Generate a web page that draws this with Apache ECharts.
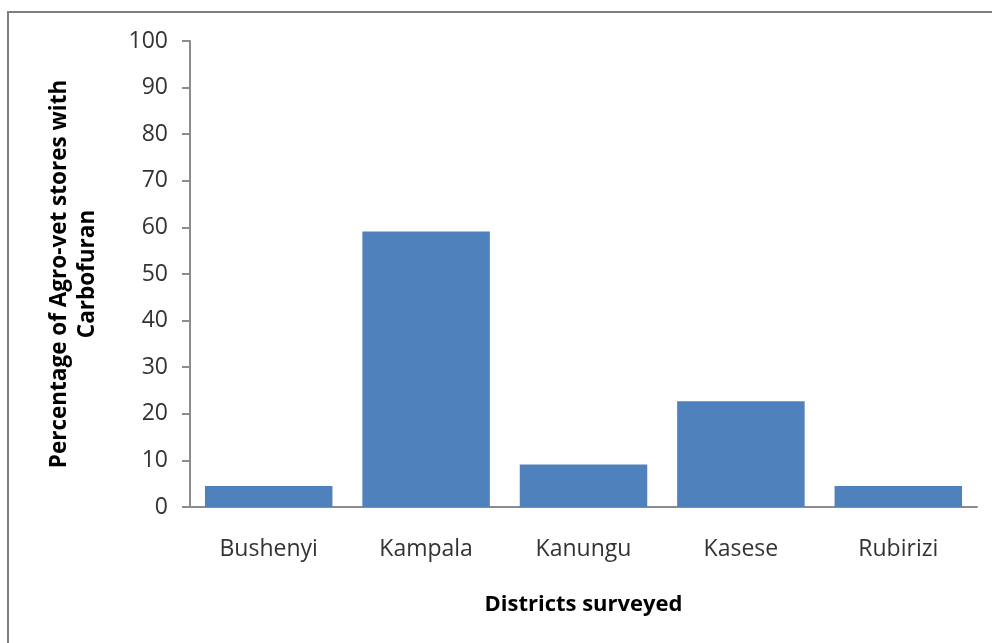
<!DOCTYPE html>
<html>
<head>
<meta charset="utf-8">
<script src="https://cdn.jsdelivr.net/npm/echarts@6/dist/echarts.min.js"></script>
<style>
  html, body { margin: 0; padding: 0; background: #fff; }
  #chart { width: 992px; height: 643px; }
</style>
</head>
<body>
<div id="chart"></div>
<script>
// districts and % of agro-vet stores stocking carbofuran
const districts = ['Bushenyi', 'Kampala', 'Kanungu', 'Kasese', 'Rubirizi']
const percentWithCarbofuran = [4.5, 59.1, 9.1, 22.7, 4.5]
const yTicks = [0, 10, 20, 30, 40, 50, 60, 70, 80, 90, 100]

const axisGray = '#8c8c8c'
const labelFont = 'Open Sans'

const chart = echarts.init(document.getElementById('chart'))
chart.setOption({
  animation: false,
  backgroundColor: '#fff',
  grid: {
    left: 190,
    right: 15,
    top: 41,
    bottom: 136
  },
  graphic: [
    {
      type: 'rect',
      shape: { x: 8, y: 12, width: 1000, height: 700 },
      style: { fill: 'none', stroke: '#7f7f7f', lineWidth: 2 },
      silent: true
    }
  ],
  xAxis: {
    type: 'category',
    data: districts,
    name: 'Districts surveyed',
    nameLocation: 'middle',
    nameGap: 87,
    nameTextStyle: {
      fontFamily: labelFont,
      fontWeight: 'bold',
      fontSize: 22,
      color: '#000'
    },
    axisLine: { lineStyle: { color: axisGray, width: 2 } },
    axisTick: { show: false },
    axisLabel: {
      margin: 31,
      fontFamily: labelFont,
      fontSize: 23,
      color: '#333'
    }
  },
  yAxis: {
    type: 'value',
    min: yTicks[0],
    max: yTicks[yTicks.length - 1],
    interval: yTicks[1] - yTicks[0],
    name: 'Percentage of Agro-vet stores with\nCarbofuran',
    nameLocation: 'middle',
    nameGap: 88,
    nameRotate: 90,
    nameTextStyle: {
      fontFamily: labelFont,
      fontWeight: 'bold',
      fontSize: 22.5,
      lineHeight: 28,
      color: '#000',
      align: 'center'
    },
    splitLine: { show: false },
    axisLine: { show: true, lineStyle: { color: axisGray, width: 2 } },
    axisTick: { show: true, length: 8, lineStyle: { color: axisGray, width: 2 } },
    axisLabel: {
      margin: 22,
      fontFamily: labelFont,
      fontSize: 23,
      color: '#333'
    }
  },
  series: [
    {
      type: 'bar',
      data: percentWithCarbofuran,
      barCategoryGap: '19%',
      itemStyle: { color: '#4f81bd' }
    }
  ]
})
</script>
</body>
</html>
